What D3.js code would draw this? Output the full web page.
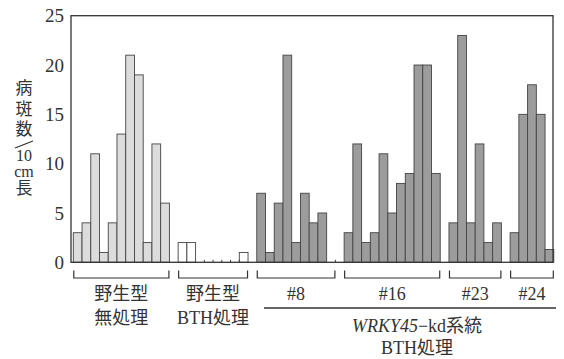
<!DOCTYPE html>
<html>
<head>
<meta charset="utf-8">
<script src="https://cdn.jsdelivr.net/npm/d3@7"></script>
<style>
  body { margin: 0; background: #fff; }
  text { font-family: "Liberation Serif", "Noto Sans CJK JP", serif; fill: #333; }
</style>
</head>
<body>
<svg width="564" height="359"></svg>
<script>
// lesion counts per plant
var wtUntreated = [3, 4, 11, 1, 4, 13, 21, 19, 2, 12, 6];
var wtBTH = [2, 2, 0, 0, 0, 0, 0, 1];
var line8 = [7, 1, 6, 21, 2, 7, 4, 5, 0];
var line16 = [3, 12, 2, 3, 11, 5, 8, 9, 20, 20, 9];
var line23 = [4, 23, 4, 12, 2, 4];
var line24 = [3, 15, 18, 15, 1.3];

var groupLabels = [["野生型", "無処理"], ["野生型", "BTH処理"], ["#8"], ["#16"], ["#23"], ["#24"]];
var yTicks = [0, 5, 10, 15, 20, 25];

var groups = [wtUntreated, wtBTH, line8, line16, line23, line24];
var fills = ["#dcdcdc", "#ffffff", "#9c9c9c", "#9c9c9c", "#9c9c9c", "#9c9c9c"];

// flatten into slots, one empty slot between groups
var bars = [], spans = [], slot = 0;
groups.forEach(function(g, gi) {
    var start = slot;
    g.forEach(function(v) {
        bars.push({slot: slot, value: v, group: gi});
        slot++;
    });
    spans.push({group: gi, first: start, last: slot - 1});
    slot++;
});
var nSlots = slot - 1;

// plot box (note: "top" is taken by window)
var boxLeft = 71, boxRight = 553, boxTop = 15.7, boxBottom = 262.3;

var svg = d3.select("svg");

var x = d3.scaleBand()
    .domain(d3.range(nSlots))
    .range([73.3, 553.8])
    .padding(0);

var y = d3.scaleLinear()
    .domain([0, 25])
    .range([boxBottom, boxTop]);

// bars
svg.append("g").selectAll("rect")
    .data(bars.filter(function(d) { return d.value > 0; }))
    .enter().append("rect")
    .attr("x", function(d) { return x(d.slot); })
    .attr("y", function(d) { return y(d.value); })
    .attr("width", x.bandwidth())
    .attr("height", function(d) { return y(0) - y(d.value); })
    .attr("fill", function(d) { return fills[d.group]; })
    .attr("stroke", "#444")
    .attr("stroke-width", 0.9);

// zero bars only leave a small tick
svg.append("g").selectAll("line")
    .data(bars.filter(function(d) { return d.value === 0; }))
    .enter().append("line")
    .attr("x1", function(d) { return x(d.slot) + x.bandwidth(); })
    .attr("x2", function(d) { return x(d.slot) + x.bandwidth(); })
    .attr("y1", y(0))
    .attr("y2", y(0) - 2.5)
    .attr("stroke", "#444")
    .attr("stroke-width", 1);

// frame
svg.append("rect")
    .attr("x", boxLeft)
    .attr("y", boxTop)
    .attr("width", boxRight - boxLeft)
    .attr("height", boxBottom - boxTop)
    .attr("fill", "none")
    .attr("stroke", "#333")
    .attr("stroke-width", 1.3);

// y axis labels
svg.append("g").selectAll("text")
    .data(yTicks)
    .enter().append("text")
    .attr("x", 64)
    .attr("y", function(d) { return y(d); })
    .attr("dy", "0.35em")
    .attr("text-anchor", "end")
    .style("font-size", "19px")
    .text(function(d) { return d; });

// y title, stacked vertically
var yt = svg.append("g").attr("text-anchor", "middle").style("font-size", "17px");
[["病", 94], ["斑", 115], ["数", 135]].forEach(function(c) {
    yt.append("text").attr("x", 24).attr("y", c[1]).text(c[0]);
});
yt.append("line")
    .attr("x1", 15).attr("y1", 148).attr("x2", 33).attr("y2", 141)
    .attr("stroke", "#333").attr("stroke-width", 1.3);
yt.append("text").attr("x", 24).attr("y", 161).style("font-size", "16px").text("10");
yt.append("text").attr("x", 24).attr("y", 176.5).style("font-size", "16px").text("cm");
yt.append("text").attr("x", 24).attr("y", 194).text("長");

// brackets under each group
var br = svg.append("g").attr("fill", "none").attr("stroke", "#333").attr("stroke-width", 1.2);
spans.forEach(function(s) {
    var x0 = x(s.first) + 0.5, x1 = x(s.last) + x.bandwidth() - 0.5;
    br.append("path")
        .attr("d", "M" + x0 + ",270.5V278H" + x1 + "V270.5");
});

// group labels
spans.forEach(function(s, i) {
    var cx = (x(s.first) + x(s.last) + x.bandwidth()) / 2;
    groupLabels[i].forEach(function(t, j) {
        svg.append("text")
            .attr("x", cx)
            .attr("y", 300 + j * 24)
            .attr("text-anchor", "middle")
            .style("font-size", "18px")
            .text(t);
    });
});

// transgenic lines label
svg.append("line")
    .attr("x1", 264).attr("x2", 556)
    .attr("y1", 308).attr("y2", 308)
    .attr("stroke", "#333").attr("stroke-width", 1.3);

var t1 = svg.append("text")
    .attr("x", 417).attr("y", 332)
    .attr("text-anchor", "middle")
    .style("font-size", "18px");
t1.append("tspan").style("font-style", "italic").text("WRKY45");
t1.append("tspan").text("−kd系統");

svg.append("text")
    .attr("x", 417).attr("y", 354)
    .attr("text-anchor", "middle")
    .style("font-size", "18px")
    .text("BTH処理");
</script>
</body>
</html>
